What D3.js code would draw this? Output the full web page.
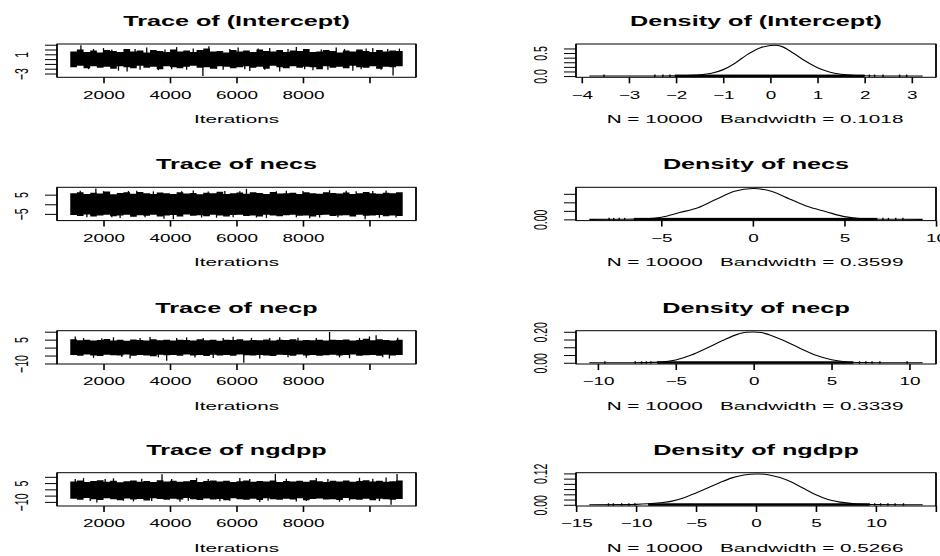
<!DOCTYPE html>
<html>
<head>
<meta charset="utf-8">
<script src="https://cdnjs.cloudflare.com/ajax/libs/d3/7.8.5/d3.min.js"></script>
<style>
  body { margin: 0; background: #fff; }
  text { font-family: "Liberation Sans", Arial, Helvetica, sans-serif; fill: #000; }
</style>
</head>
<body>
<div id="chart"></div>
<script>
// ---- data ----
const params = ['(Intercept)', 'necs', 'necp', 'ngdpp']
const bandwidths = ['0.1018', '0.3599', '0.3339', '0.5266']
const nIter = 10000
const iterRange = [1001, 11000]
// iterations at which the edges of the trace band were read
const envelopeIters = d3.range(1000, 11001, 200)
const traceXTicks = [2000, 4000, 6000, 8000, 10000]
const traceXLabels = [2000, 4000, 6000, 8000]

// (Intercept)
const interceptUpper = [1.6, 2.0, 1.5, 1.8, 1.4, 1.9, 1.7, 1.5, 2.1, 1.6, 1.8, 1.4, 1.9, 1.7, 1.5, 2.0, 1.6, 1.8, 1.5, 1.9, 2.2, 1.6, 1.7, 1.4, 1.9, 1.6, 1.8, 1.5, 2.0, 1.7, 1.6, 1.9, 1.5, 1.8, 1.7, 2.1, 1.5, 1.6, 1.9, 1.7, 1.4, 1.8, 1.6, 2.0, 1.7, 1.5, 1.9, 1.6, 1.8, 1.7, 1.6]
const interceptLower = [-1.7, -1.4, -1.9, -1.5, -1.8, -1.6, -2.0, -1.5, -1.7, -1.9, -1.4, -1.8, -1.6, -2.1, -1.5, -1.7, -1.9, -1.6, -1.4, -1.8, -1.7, -2.0, -1.5, -1.6, -1.9, -1.7, -1.5, -1.8, -1.6, -2.0, -1.4, -1.7, -1.9, -1.5, -1.8, -1.6, -1.7, -2.1, -1.5, -1.8, -1.6, -1.9, -1.4, -1.7, -1.8, -1.5, -2.0, -1.6, -1.7, -1.5, -1.6]
const interceptSpikes = [[1320, 2.89], [1550, -2.1], [1700, 2.1], [2000, 2.3], [2250, 2.0], [2450, -2.4], [2710, -2.6], [2950, 2.1], [3100, -2.2], [3300, 2.4], [3650, -2.3], [3850, 2.0], [4050, -2.1], [4200, 2.5], [4500, -2.2], [4700, 2.2], [4990, -3.53], [5170, 2.7], [5400, -2.0], [5600, -2.2], [5800, 2.1], [6050, 2.4], [6250, -2.1], [6400, -2.5], [6650, 2.2], [6850, -2.2], [7000, 2.3], [7300, -2.6], [7550, 2.1], [7800, 2.5], [8050, -2.1], [8300, -2.3], [8550, 2.0], [8750, -2.2], [9000, 2.4], [9250, 2.1], [9500, -2.4], [9750, -2.1], [9900, 2.2], [10100, 2.3], [10350, -2.2], [10550, 2.1], [10710, -3.4], [10900, 2.2]]
const interceptTraceTicks = [-3, -2, -1, 0, 1, 2, 3]
const interceptTraceLabels = [-3, 1]
const interceptDensX = [-3.84, -3, -2.5, -2, -1.75, -1.5, -1.25, -1, -0.75, -0.5, -0.25, 0, 0.1, 0.25, 0.5, 0.75, 1, 1.25, 1.5, 1.75, 2, 2.5, 3.23]
const interceptDensY = [0, 0.001, 0.002, 0.005, 0.01, 0.025, 0.06, 0.14, 0.28, 0.46, 0.6, 0.665, 0.67, 0.64, 0.49, 0.32, 0.18, 0.09, 0.04, 0.015, 0.006, 0.002, 0]
const interceptRugDense = [-2.03, 2.0]
const interceptRugTails = [-3.53, -2.45, -2.28, -2.13, 2.1, 2.21, 2.39, 2.74, 2.89]
const interceptDensXTicks = [-4, -3, -2, -1, 0, 1, 2, 3]
const interceptDensYTicks = [0, 0.1, 0.2, 0.3, 0.4, 0.5, 0.6]
const interceptDensYLabels = [0, 0.5]

// necs
const necsUpper = [5.8, 6.3, 5.4, 6.0, 5.6, 6.6, 5.2, 5.9, 6.2, 5.5, 6.4, 5.7, 5.3, 6.1, 5.8, 5.4, 6.3, 5.6, 5.9, 5.2, 6.0, 5.7, 6.5, 5.4, 5.8, 6.1, 5.5, 6.2, 5.9, 5.3, 6.4, 5.6, 5.8, 6.0, 5.4, 6.2, 5.7, 5.5, 6.3, 5.9, 5.6, 6.1, 5.3, 5.8, 6.4, 5.7, 5.5, 6.0, 5.8, 6.2, 5.9]
const necsLower = [-5.6, -6.1, -5.3, -6.4, -5.8, -5.5, -6.2, -5.9, -5.4, -6.5, -5.7, -6.0, -5.5, -6.3, -5.8, -5.6, -6.4, -5.3, -6.0, -5.7, -6.2, -5.5, -5.9, -6.3, -5.6, -5.4, -6.1, -5.8, -6.4, -5.5, -5.9, -6.2, -5.7, -5.4, -6.0, -5.8, -6.3, -5.6, -5.5, -6.1, -5.9, -5.7, -6.4, -5.5, -6.0, -5.8, -5.6, -6.2, -5.9, -6.1, -5.7]
const necsSpikes = [[1300, 7.0], [1500, -6.8], [1770, 8.19], [2000, 6.8], [2250, -6.7], [2500, -7.2], [2750, 6.9], [3000, 7.1], [3250, -6.8], [3500, 6.7], [3820, -7.5], [4100, -7.85], [4350, 6.8], [4700, 7.2], [4950, -6.9], [5150, 6.7], [5400, -7.0], [5650, 6.9], [5900, -6.8], [6100, 6.8], [6300, 8.0], [6600, -6.9], [6900, -7.1], [7200, 6.8], [7500, 7.0], [7800, -6.8], [8000, 6.9], [8200, -7.3], [8500, -6.9], [8800, 7.3], [9050, -6.8], [9300, 7.1], [9600, 6.8], [9870, -7.8], [10100, 6.9], [10300, -7.0], [10500, 7.2], [10800, -6.9]]
const necsTraceTicks = [-5, 0, 5]
const necsTraceLabels = [-5, 5]
const necsDensX = [-8.93, -7, -6, -5, -4, -3, -2, -1, 0, 1, 2, 3, 4, 5, 6, 7, 9.27]
const necsDensY = [0, 0.001, 0.003, 0.012, 0.04, 0.068, 0.118, 0.165, 0.181, 0.165, 0.12, 0.075, 0.045, 0.016, 0.004, 0.001, 0]
const necsRugDense = [-6.5, 6.8]
const necsRugTails = [-7.85, -7.6, -7.3, -7.0, 7.1, 7.4, 7.8, 8.19]
const necsDensXTicks = [-5, 0, 5, 10]
const necsDensYTicks = [0, 0.05, 0.1, 0.15]
const necsDensYLabels = [0]

// necp
const necpUpper = [5.2, 4.6, 5.0, 4.4, 4.8, 5.4, 4.5, 4.9, 4.3, 5.1, 4.7, 4.4, 5.3, 4.6, 4.9, 4.5, 5.0, 4.8, 4.4, 5.2, 4.6, 4.9, 4.3, 5.0, 4.7, 5.3, 4.5, 4.8, 4.6, 5.1, 4.4, 4.9, 4.7, 5.2, 4.5, 4.8, 4.6, 5.0, 4.4, 4.9, 4.7, 5.1, 4.5, 4.8, 5.5, 4.6, 5.2, 4.8, 4.5, 4.9, 4.7]
const necpLower = [-4.6, -5.1, -4.4, -4.9, -5.3, -4.5, -4.8, -5.0, -4.3, -5.2, -4.7, -4.9, -5.4, -4.5, -4.8, -4.6, -5.1, -4.4, -5.0, -4.7, -5.3, -4.5, -4.9, -4.6, -5.2, -4.4, -4.8, -5.0, -4.6, -4.9, -5.3, -4.5, -4.7, -5.1, -4.4, -4.9, -4.6, -5.2, -4.8, -4.5, -5.0, -4.7, -4.4, -5.1, -4.8, -4.6, -5.2, -4.5, -4.9, -4.7, -5.0]
const necpSpikes = [[1150, 6.9], [1400, 6.0], [1700, -6.5], [1950, 5.9], [2300, 6.5], [2550, -6.0], [2800, -6.8], [3100, 6.1], [3400, 6.6], [3650, -6.1], [3900, -8.3], [4200, 6.0], [4500, 6.4], [4750, -6.2], [5000, 6.1], [5300, -6.6], [5600, 6.0], [5900, 6.8], [6220, -9.55], [6450, 6.1], [6700, -6.9], [7000, 6.0], [7300, 6.5], [7550, -6.1], [7850, 6.2], [8100, -6.4], [8400, 6.0], [8800, 9.85], [9100, -6.2], [9400, -6.7], [9700, 6.1], [10000, 7.0], [10200, 7.8], [10400, -6.1], [10600, -6.9], [10850, 6.2]]
const necpTraceTicks = [-10, -5, 0, 5, 10]
const necpTraceLabels = [-10, 5]
const necpDensX = [-10.55, -8, -7, -6, -5, -4, -3, -2, -1, -0.5, 0, 0.5, 1, 2, 3, 4, 5, 6, 7, 8, 10.85]
const necpDensY = [0, 0.0005, 0.001, 0.004, 0.018, 0.05, 0.095, 0.143, 0.185, 0.197, 0.199, 0.195, 0.181, 0.14, 0.092, 0.048, 0.019, 0.005, 0.0015, 0.0005, 0]
const necpRugDense = [-6.2, 6.4]
const necpRugTails = [-9.55, -7.6, -7.2, -6.9, -6.6, 6.8, 7.2, 7.6, 8.1, 9.85]
const necpDensXTicks = [-10, -5, 0, 5, 10]
const necpDensYTicks = [0, 0.05, 0.1, 0.15, 0.2]
const necpDensYLabels = [0, 0.2]

// ngdpp
const ngdppUpper = [6.2, 7.0, 5.8, 6.6, 7.3, 6.0, 6.8, 5.7, 6.4, 7.1, 6.1, 6.7, 5.9, 7.2, 6.3, 6.9, 6.0, 6.5, 7.4, 5.8, 6.6, 7.0, 6.2, 6.8, 5.9, 6.4, 7.1, 6.1, 6.7, 6.3, 7.0, 5.8, 6.6, 6.2, 6.9, 6.0, 7.2, 6.4, 5.9, 6.8, 6.3, 7.0, 6.1, 6.6, 7.3, 6.2, 6.8, 6.0, 6.5, 7.1, 6.4]
const ngdppLower = [-7.4, -8.2, -7.0, -7.8, -8.5, -7.2, -7.9, -8.6, -7.3, -8.0, -7.6, -8.8, -7.1, -7.7, -8.3, -7.5, -8.1, -7.0, -7.8, -8.4, -7.3, -8.0, -7.6, -8.7, -7.2, -7.9, -8.2, -7.4, -8.5, -7.1, -7.8, -8.3, -7.5, -8.0, -7.2, -8.6, -7.7, -7.3, -8.1, -7.9, -8.4, -7.0, -7.8, -8.2, -7.5, -8.7, -7.4, -7.9, -8.3, -7.6, -7.2]
const ngdppSpikes = [[1150, 8.2], [1400, 9.0], [1600, -9.2], [1800, -10.5], [2050, 8.3], [2300, 8.8], [2600, -9.1], [2900, -9.6], [3150, 8.4], [3450, -9.3], [3760, 12.0], [4050, 8.3], [4300, -9.8], [4550, -9.1], [4800, 9.2], [5150, 8.2], [5500, -9.5], [5800, -9.0], [6100, 9.0], [6400, 8.3], [6700, -10.0], [6950, -9.1], [7170, 12.3], [7500, 8.4], [7800, -9.7], [8100, -9.2], [8400, 9.1], [8750, 8.3], [9100, -9.9], [9400, -9.0], [9700, 9.3], [10100, 8.4], [10300, -9.3], [10500, 9.5], [10650, -12.3], [10830, 12.2]]
const ngdppTraceTicks = [-10, -5, 0, 5, 10]
const ngdppTraceLabels = [-10, 5]
const ngdppDensX = [-13.9, -11, -10, -9, -8, -7, -6, -5, -4, -3, -2, -1, 0, 0.3, 1, 2, 3, 4, 5, 6, 7, 8, 9, 10, 13.9]
const ngdppDensY = [0, 0.0005, 0.0015, 0.004, 0.008, 0.014, 0.027, 0.045, 0.065, 0.085, 0.103, 0.114, 0.118, 0.118, 0.115, 0.104, 0.086, 0.062, 0.038, 0.02, 0.01, 0.005, 0.002, 0.001, 0]
const ngdppRugDense = [-9, 9.5]
const ngdppRugTails = [-12.3, -11.9, -11.2, -10.6, -10.1, 9.9, 10.4, 11.0, 11.6, 12.3]
const ngdppDensXTicks = [-15, -10, -5, 0, 5, 10, 15]
const ngdppDensXLabels = [-15, -10, -5, 0, 5, 10]
const ngdppDensYTicks = [0, 0.02, 0.04, 0.06, 0.08, 0.1, 0.12]
const ngdppDensYLabels = [0, 0.12]

const panels = [
  { upper: interceptUpper, lower: interceptLower, spikes: interceptSpikes, tTicks: interceptTraceTicks, tLabels: interceptTraceLabels,
    dx: interceptDensX, dy: interceptDensY, rugDense: interceptRugDense, rugTails: interceptRugTails,
    dxTicks: interceptDensXTicks, dxLabels: interceptDensXTicks, dyTicks: interceptDensYTicks, dyLabels: interceptDensYLabels, dyFmt: '.1f' },
  { upper: necsUpper, lower: necsLower, spikes: necsSpikes, tTicks: necsTraceTicks, tLabels: necsTraceLabels,
    dx: necsDensX, dy: necsDensY, rugDense: necsRugDense, rugTails: necsRugTails,
    dxTicks: necsDensXTicks, dxLabels: necsDensXTicks, dyTicks: necsDensYTicks, dyLabels: necsDensYLabels, dyFmt: '.2f' },
  { upper: necpUpper, lower: necpLower, spikes: necpSpikes, tTicks: necpTraceTicks, tLabels: necpTraceLabels,
    dx: necpDensX, dy: necpDensY, rugDense: necpRugDense, rugTails: necpRugTails,
    dxTicks: necpDensXTicks, dxLabels: necpDensXTicks, dyTicks: necpDensYTicks, dyLabels: necpDensYLabels, dyFmt: '.2f' },
  { upper: ngdppUpper, lower: ngdppLower, spikes: ngdppSpikes, tTicks: ngdppTraceTicks, tLabels: ngdppTraceLabels,
    dx: ngdppDensX, dy: ngdppDensY, rugDense: ngdppRugDense, rugTails: ngdppRugTails,
    dxTicks: ngdppDensXTicks, dxLabels: ngdppDensXLabels, dyTicks: ngdppDensYTicks, dyLabels: ngdppDensYLabels, dyFmt: '.2f' }
]

// ---- layout ----
const W = 940, H = 556
const SX = 1.8            // the picture is stretched sideways, so is the text
const rowTop = [44, 187.3, 330.7, 472.7]
const BH = 33.3
const TX = [57, 416], DX = [576, 936]

const svg = d3.select('#chart').append('svg')
  .attr('width', W)
  .attr('height', H)

// R style axis range: 4% extra on each side
const pad4 = ([a, b]) => [a - (b - a) * 0.04, b + (b - a) * 0.04]

function addText(g, x, y, str, size, bold) {
  g.append('text')
    .attr('transform', `translate(${x},${y}) scale(${SX},1)`)
    .attr('text-anchor', 'middle')
    .style('font-size', size + 'px')
    .style('font-weight', bold ? 'bold' : 'normal')
    .style('white-space', 'pre')
    .text(str)
}

function drawBox(g, x0, x1, y0, y1) {
  g.append('rect').attr('x', x0).attr('y', y0).attr('width', x1 - x0).attr('height', y1 - y0)
    .attr('fill', 'none').attr('stroke', '#000').attr('stroke-width', 1)
  ;[x0, x1].forEach(x => g.append('line').attr('x1', x).attr('x2', x).attr('y1', y0).attr('y2', y1)
    .attr('stroke', '#000').attr('stroke-width', 1.6))
}

function drawXAxis(g, x, top, ticks, labels, fmt) {
  const ax = g.append('g')
    .attr('transform', `translate(0,${top + BH})`)
    .call(d3.axisBottom(x).tickValues(ticks).tickSize(6).tickSizeOuter(0).tickPadding(8)
      .tickFormat(v => labels.includes(v) ? fmt(v) : ''))
  ax.select('.domain').remove()
  ax.selectAll('line').attr('stroke', '#000').attr('stroke-width', 1.6)
  ax.selectAll('text').attr('transform', `scale(${SX},1)`).style('font-size', '10.5px')
}

function drawYAxis(g, y, x0, ticks, labels, fmt) {
  const ax = g.append('g')
    .attr('transform', `translate(${x0},0)`)
    .call(d3.axisLeft(y).tickValues(ticks).tickSize(12).tickSizeOuter(0)
      .tickFormat(v => labels.includes(v) ? fmt(v) : ''))
  ax.select('.domain').remove()
  ax.selectAll('line').attr('stroke', '#000').attr('stroke-width', 1)
  ax.selectAll('text')
    .attr('x', null).attr('dy', null)
    .attr('transform', `translate(-36,0) scale(${SX},1) rotate(-90)`)
    .attr('text-anchor', 'middle')
    .attr('dominant-baseline', 'central')
    .style('font-size', '10.5px')
}

function drawTrace(d, i) {
  const top = rowTop[i]
  const g = svg.append('g')
  const x = d3.scaleLinear().domain(pad4(iterRange)).range(TX)
  const all = d.upper.concat(d.lower, d.spikes.map(s => s[1]))
  const y = d3.scaleLinear().domain(pad4(d3.extent(all))).range([top + BH, top])

  const band = envelopeIters.map((it, k) => ({ it, hi: d.upper[k], lo: d.lower[k] }))
  g.append('path').datum(band)
    .attr('d', d3.area().x(b => x(b.it)).y0(b => y(b.lo)).y1(b => y(b.hi)).curve(d3.curveStepAfter))
    .attr('fill', '#000')
  g.selectAll('.spike').data(d.spikes).enter().append('line')
    .attr('x1', s => x(s[0])).attr('x2', s => x(s[0]))
    .attr('y1', y(0)).attr('y2', s => y(s[1]))
    .attr('stroke', '#000').attr('stroke-width', 1.3)

  drawBox(g, TX[0], TX[1], top, top + BH)
  drawXAxis(g, x, top, traceXTicks, traceXLabels, d3.format('d'))
  drawYAxis(g, y, TX[0], d.tTicks, d.tLabels, d3.format('d'))

  addText(g, (TX[0] + TX[1]) / 2, top - 18, 'Trace of ' + params[i], 14, true)
  addText(g, (TX[0] + TX[1]) / 2, top + 79, 'Iterations', 11.5, false)
}

function drawDensity(d, i) {
  const top = rowTop[i]
  const g = svg.append('g')
  const x = d3.scaleLinear().domain(pad4(d3.extent(d.dx))).range(DX)
  const y = d3.scaleLinear().domain(pad4([0, d3.max(d.dy)])).range([top + BH, top])
  const pts = d.dx.map((v, k) => [v, d.dy[k]])

  g.append('path').datum(pts)
    .attr('d', d3.line().x(p => x(p[0])).y(p => y(p[1])).curve(d3.curveMonotoneX))
    .attr('fill', 'none').attr('stroke', '#000').attr('stroke-width', 1.1)

  // observations drawn as tiny vertical marks at zero
  g.append('rect')
    .attr('x', x(d.rugDense[0])).attr('width', x(d.rugDense[1]) - x(d.rugDense[0]))
    .attr('y', y(0) - 1.5).attr('height', 2.5).attr('fill', '#000')
  g.selectAll('.tail').data(d.rugTails).enter().append('line')
    .attr('x1', v => x(v)).attr('x2', v => x(v))
    .attr('y1', y(0) + 1).attr('y2', y(0) - 1.5)
    .attr('stroke', '#000').attr('stroke-width', 1.4)

  drawBox(g, DX[0], DX[1], top, top + BH)
  drawXAxis(g, x, top, d.dxTicks, d.dxLabels, d3.format('d'))
  drawYAxis(g, y, DX[0], d.dyTicks, d.dyLabels, d3.format(d.dyFmt))

  addText(g, (DX[0] + DX[1]) / 2, top - 18, 'Density of ' + params[i], 14, true)
  addText(g, (DX[0] + DX[1]) / 2 - 1, top + 79, `N = ${nIter}   Bandwidth = ${bandwidths[i]}`, 11.5, false)
}

panels.forEach((d, i) => {
  drawTrace(d, i)
  drawDensity(d, i)
})
</script>
</body>
</html>
